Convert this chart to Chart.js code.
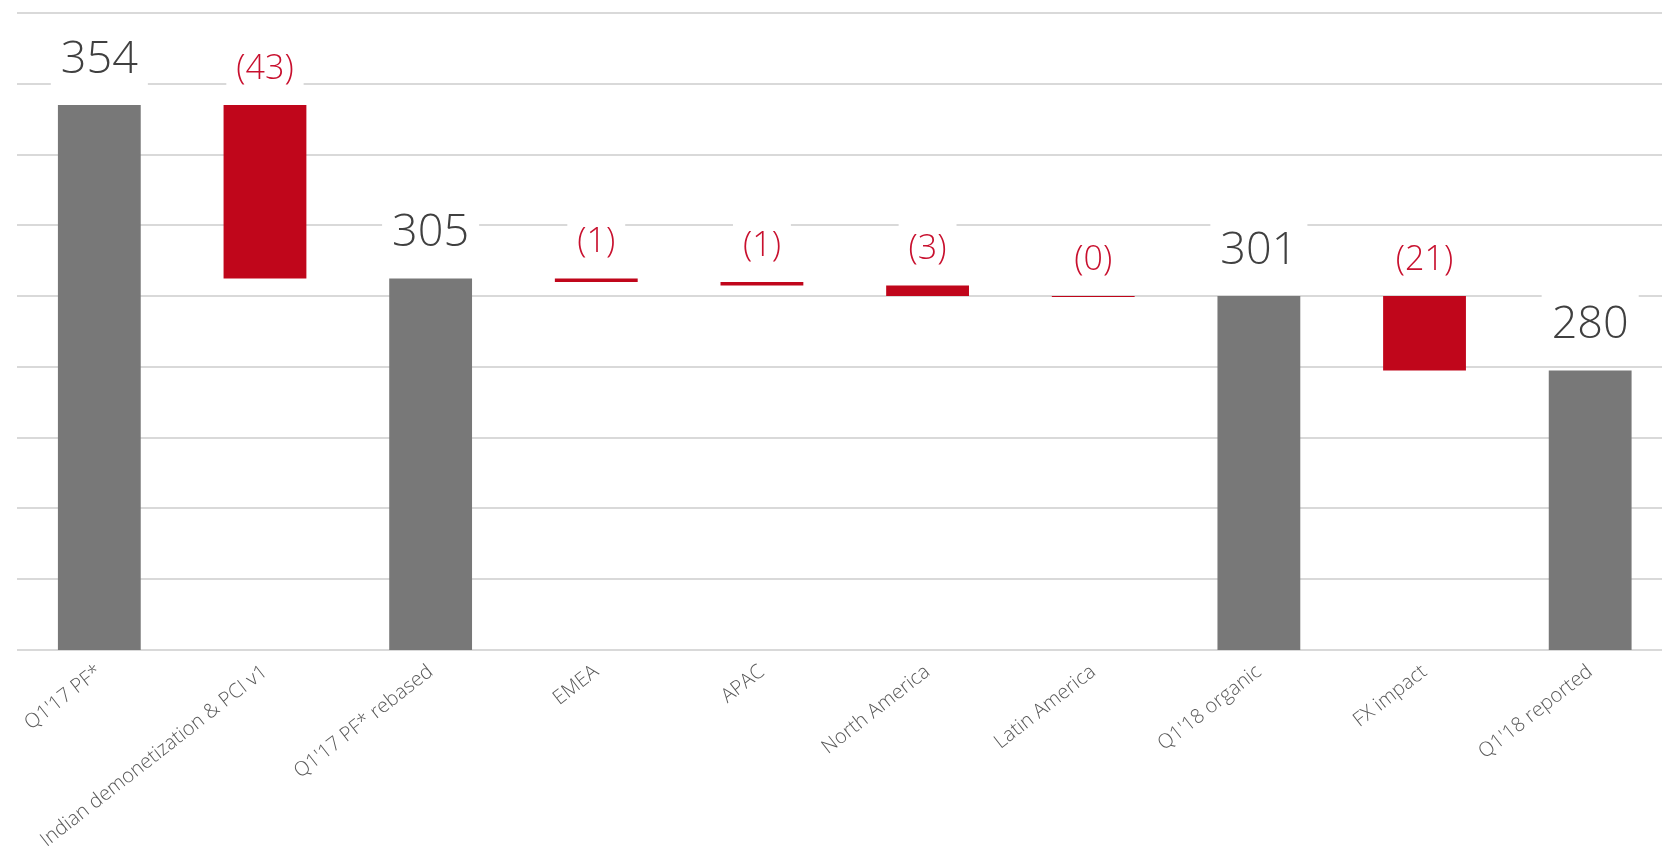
<!DOCTYPE html>
<html>
<head>
<meta charset="utf-8">
<script src="https://cdn.jsdelivr.net/npm/chart.js@4.4.1/dist/chart.umd.min.js"></script>
<style>
  html, body { margin: 0; padding: 0; background: #ffffff; overflow: hidden; }
  #wrap { position: relative; width: 1673px; height: 851px; }
</style>
</head>
<body>
<div id="wrap"><canvas id="c"></canvas></div>
<script>
// ---- data ----
const categories = [
  "Q1'17 PF*", "Indian demonetization & PCI v1", "Q1'17 PF* rebased", "EMEA", "APAC",
  "North America", "Latin America", "Q1'18 organic", "FX impact", "Q1'18 reported"
];
// floating bar start / end values (totals start at 0)
const barStart = [0, 354, 0, 305, 304, 303, 300, 0, 300, 0];
const barEnd   = [354, 305, 305, 304, 303, 300, 299.75, 300, 279, 279];
const isTotal  = [true, false, true, false, false, false, false, true, false, true];
const valueLabels = ["354", "(43)", "305", "(1)", "(1)", "(3)", "(0)", "301", "(21)", "280"];
const yMin = 200, yMax = 380, yStep = 20;

// ---- styles ----
const GRAY = '#787878';
const RED = '#c0061b';
const TOTAL_TEXT = '#404040';
const DELTA_TEXT = '#c8102e';
const FONT = "'Open Sans', 'Noto Sans', sans-serif";

const labelPlugin = {
  id: 'valueLabels',
  afterDatasetsDraw(chart) {
    const ctx = chart.ctx;
    const meta = chart.getDatasetMeta(0);
    meta.data.forEach((bar, i) => {
      const top = Math.min(bar.y, bar.base);
      const total = isTotal[i];
      const size = total ? 45 : 34;
      const offset = total ? 45 : 36;
      const halfH = total ? 34 : 28;
      const cy = top - offset;
      ctx.save();
      ctx.font = `300 ${size}px ${FONT}`;
      const w = ctx.measureText(valueLabels[i]).width;
      ctx.fillStyle = '#ffffff';
      ctx.fillRect(bar.x - w / 2 - 10, cy - halfH, w + 20, halfH * 2);
      ctx.fillStyle = total ? TOTAL_TEXT : DELTA_TEXT;
      ctx.textAlign = 'center';
      ctx.textBaseline = 'middle';
      ctx.fillText(valueLabels[i], bar.x, cy);
      ctx.restore();
    });
  }
};

new Chart(document.getElementById('c'), {
  type: 'bar',
  data: {
    labels: categories,
    datasets: [{
      data: categories.map((_, i) => [barStart[i], barEnd[i]]),
      backgroundColor: isTotal.map(t => t ? GRAY : RED),
      borderWidth: 0,
      barPercentage: 0.5,
      categoryPercentage: 1.0
    }]
  },
  options: {
    responsive: true,
    maintainAspectRatio: false,
    animation: false,
    layout: { padding: { left: 16.5, top: 13, right: 0, bottom: 0 } },
    plugins: { legend: { display: false }, tooltip: { enabled: false } },
    scales: {
      x: {
        grid: { display: false, drawTicks: false },
        border: { display: false },
        ticks: {
          color: '#595959',
          font: { family: FONT, size: 20, weight: '300' },
          minRotation: 38, maxRotation: 38,
          padding: 10,
          autoSkip: false
        },
        afterFit(scale) { scale.height = 201; }
      },
      y: {
        min: yMin, max: yMax,
        grid: { color: '#d9d9d9', lineWidth: 2, drawTicks: false },
        border: { display: false },
        ticks: { display: false, stepSize: yStep },
        afterFit(scale) { scale.width = 0; }
      }
    }
  },
  plugins: [labelPlugin]
});
</script>
</body>
</html>
